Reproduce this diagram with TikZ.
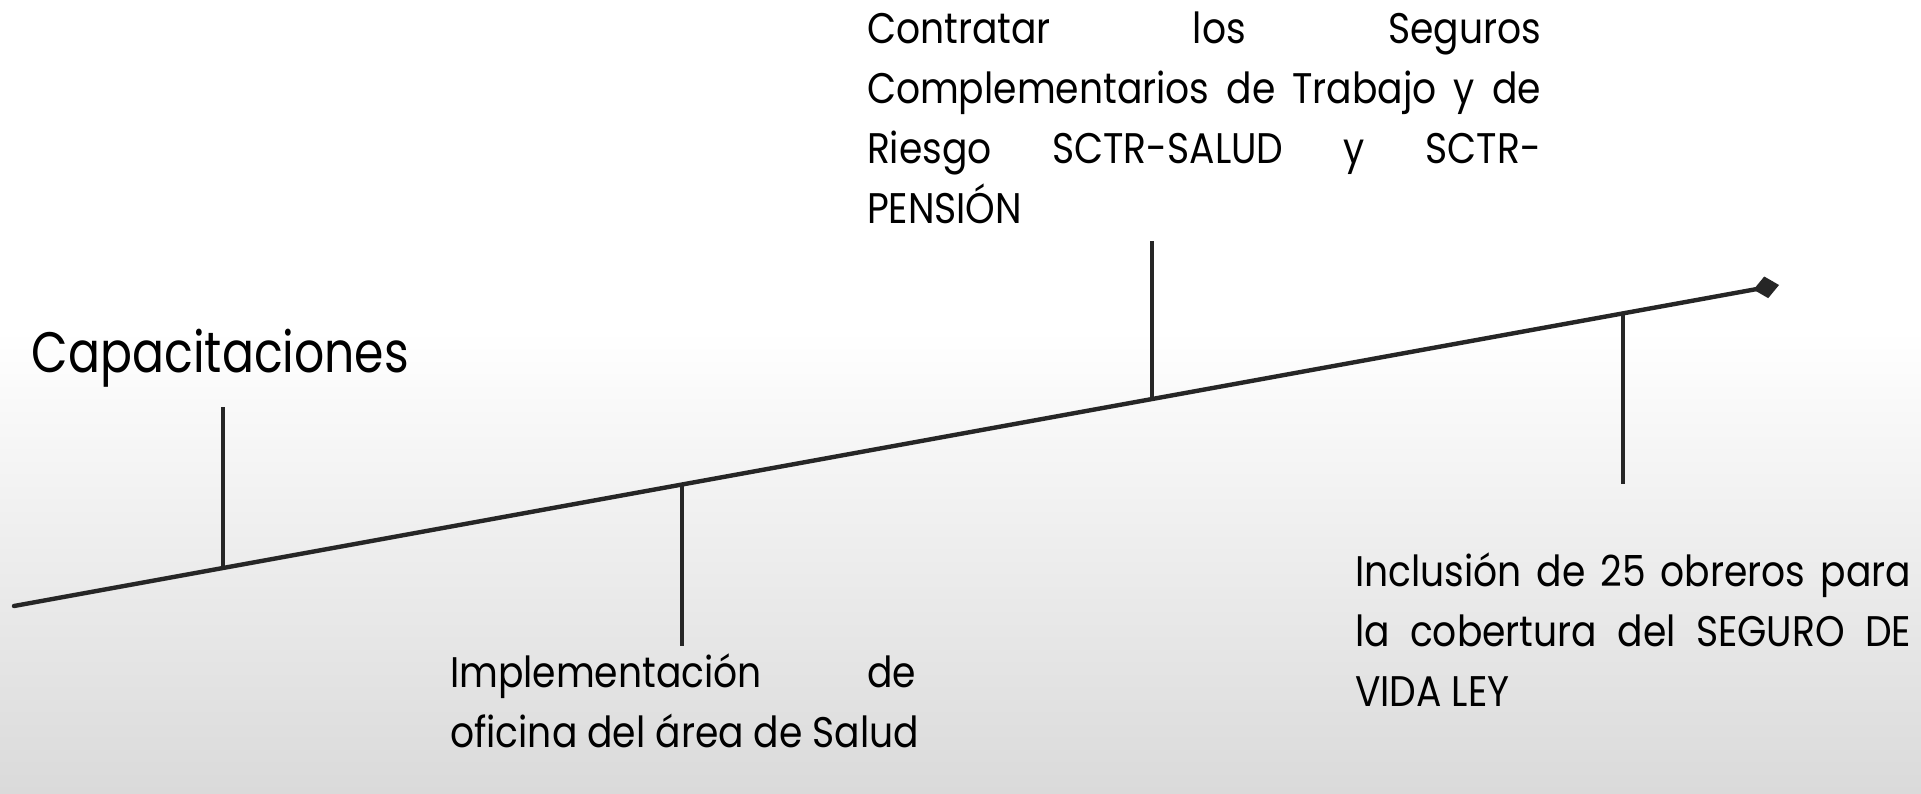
\documentclass[tikz,border=0pt]{standalone}
\usepackage{fontspec}
\usetikzlibrary{arrows.meta}
\newfontfamily\labfont[FakeStretch=0.88]{Poppins}
\newfontfamily\bigfont[FakeStretch=0.83]{Poppins}
\definecolor{inkc}{HTML}{262626}
\definecolor{bgbot}{HTML}{DADADA}
\begin{document}
\begin{tikzpicture}[x=0.5pt,y=-0.5pt,
  axisline/.style={draw=inkc, line width=2.2pt, line cap=round},
  tickline/.style={draw=inkc, line width=1.9pt},
  lbl/.style={inner sep=0pt, outer sep=0pt, anchor=base west, text=black,
    font=\labfont\fontsize{21.4}{30}\selectfont},
  bigl/.style={inner sep=0pt, outer sep=0pt, anchor=base west, text=black,
    font=\bigfont\fontsize{28.5}{34}\selectfont}]
\useasboundingbox (0,0) rectangle (1921,793);
\fill[white] (0,0) rectangle (1921,793);
\shade[top color=white, bottom color=bgbot] (0,330) rectangle (1921,793);

% timeline
\coordinate (s) at (14,606);
\coordinate (e) at (1779,285);
\draw[axisline, -{Diamond[length=13pt,width=11pt,fill=inkc]}] (s) -- (e);

% tick bases and ends
\coordinate (b1) at (223,568);  \coordinate (t1) at (223,407);
\coordinate (b2) at (682,485);  \coordinate (t2) at (682,646);
\coordinate (b3) at (1152,399); \coordinate (t3) at (1152,241);
\coordinate (b4) at (1623,313); \coordinate (t4) at (1623,484);
\draw[tickline] (b1) -- (t1);
\draw[tickline] (b2) -- (t2);
\draw[tickline] (b3) -- (t3);
\draw[tickline] (b4) -- (t4);

% labels
\node[bigl] (cap) at (32,372) {Capacitaciones};
\node[lbl] (con) at (867,43) {\vtop{\baselineskip=30pt\lineskiplimit=-100pt
  \hbox to 337pt{Contratar los Seguros}
  \hbox to 337pt{Complementarios de Trabajo y de}
  \hbox to 337pt{Riesgo SCTR-SALUD y SCTR-}
  \hbox{PENSIÓN}}};
\node[lbl] (imp) at (450,687) {\vtop{\baselineskip=30pt\lineskiplimit=-100pt
  \hbox to 233pt{Implementación de}
  \hbox{oficina del área de Salud}}};
\node[lbl] (inc) at (1355,586) {\vtop{\baselineskip=30pt\lineskiplimit=-100pt
  \hbox to 278pt{Inclusión de 25 obreros para}
  \hbox to 278pt{la cobertura del SEGURO DE}
  \hbox{VIDA LEY}}};
\end{tikzpicture}
\end{document}
